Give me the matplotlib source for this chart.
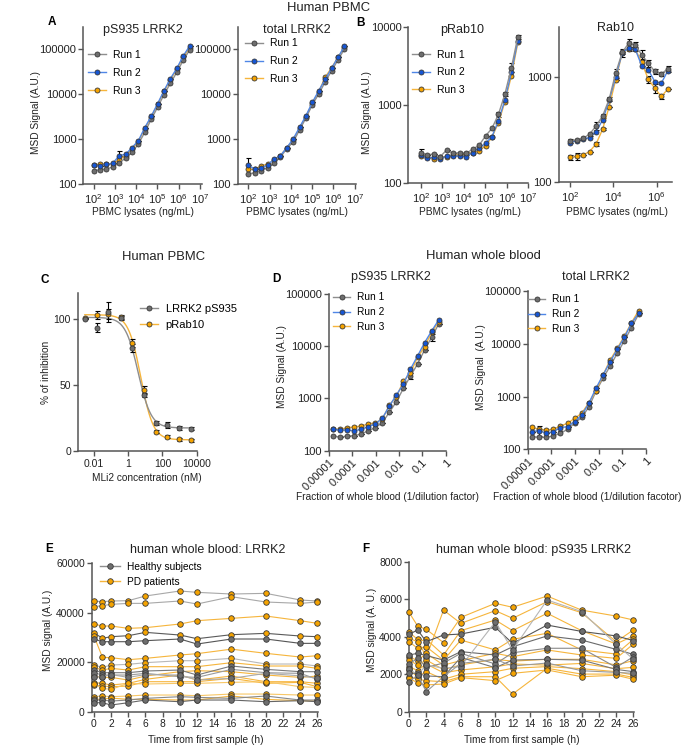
import numpy as np
import matplotlib
matplotlib.use('Agg')
import matplotlib.pyplot as plt
from matplotlib.lines import Line2D
from matplotlib.ticker import NullLocator, FixedLocator, FixedFormatter

plt.rcParams['font.family'] = ['Liberation Sans', 'DejaVu Sans']
plt.rcParams['mathtext.fontset'] = 'custom'
plt.rcParams['mathtext.rm'] = 'Liberation Sans'
plt.rcParams['mathtext.it'] = 'Liberation Sans:italic'
plt.rcParams['mathtext.default'] = 'regular'

# ---------------- data ----------------
pbmc_conc = [100, 200, 400, 800, 1600, 3200, 6400, 12800, 25600, 51200,
             102400, 204800, 409600, 819200, 1638400, 3276800]

A_pS935_run1 = [198, 208, 216, 239, 299, 373, 507, 778, 1415, 2755, 5094, 9770, 17460, 30700, 56800, 96400]
A_pS935_run2 = [260, 256, 274, 289, 428, 458, 645, 923, 1797, 3214, 6150, 11990, 22180, 37700, 71000, 118000]
A_pS935_run3 = [265, 275, 275, 285, 340, 430, 610, 880, 1700, 3100, 5900, 11500, 21000, 36000, 66000, 108000]
A_pS935_err2 = [0, 0, 0, 0, 110, 0, 0, 0, 0, 0, 0, 0, 0, 0, 0, 0]

A_total_run1 = [167, 179, 195, 231, 289, 393, 612, 861, 1595, 2950, 5850, 10100, 18700, 32900, 57800, 100000]
A_total_run2 = [260, 216, 223, 265, 354, 425, 645, 1005, 1830, 3330, 6580, 12000, 21300, 37700, 66000, 115000]
A_total_run3 = [215, 212, 252, 279, 342, 425, 645, 955, 1730, 3160, 6270, 11400, 23800, 38600, 66000, 110000]
A_total_err2 = [126, 0, 0, 0, 0, 0, 0, 0, 0, 0, 0, 0, 0, 0, 0, 0]

B_pRab10_run1 = [247, 231, 238, 220, 267, 242, 247, 242, 273, 307, 404, 507, 767, 1397, 3040, 7590]
B_pRab10_run2 = [231, 209, 215, 203, 224, 224, 224, 220, 247, 281, 326, 397, 636, 1170, 2650, 6760]
B_pRab10_run3 = [224, 220, 203, 215, 220, 231, 231, 235, 247, 262, 301, 389, 598, 1110, 2400, 6390]
B_pRab10_err1 = [25, 0, 0, 0, 0, 0, 0, 10, 0, 0, 0, 0, 60, 100, 400, 450]

B_Rab10_run1 = [248, 253, 262, 287, 344, 428, 617, 1092, 1717, 2108, 2018, 1633, 1359, 1133, 1076, 1200]
B_Rab10_run2 = [239, 248, 259, 266, 304, 392, 600, 1000, 1693, 1888, 1849, 1282, 1175, 909, 877, 1148]
B_Rab10_run3 = [173, 176, 182, 196, 232, 320, 525, 944, 1693, 1849, 1849, 1380, 957, 785, 655, 769]
B_Rab10_err1 = [10, 0, 0, 10, 30, 15, 30, 100, 150, 180, 130, 180, 110, 70, 50, 70]
B_Rab10_err3 = [10, 12, 0, 0, 10, 8, 0, 0, 50, 80, 80, 110, 80, 80, 40, 0]

C_conc = [0.003, 0.015, 0.07, 0.37, 1.7, 8.5, 41, 195, 930, 4500]
C_pS935 = [100, 93.7, 105.8, 101.3, 78, 42.3, 21, 19.7, 17.2, 17]
C_pS935_err = [0, 3.5, 7.5, 1.5, 3, 1.5, 1.5, 2, 1.5, 1]
C_pRab10 = [101, 103, 104, 101.5, 81.8, 46, 14.7, 10.9, 8.9, 8.1]
C_pRab10_err = [0, 3, 4, 1.5, 3, 3, 1, 1, 1, 1]
# 4-parameter logistic fit: top, bottom, IC50 (nM), Hill slope
C_fit_pS935 = [101.5, 17.5, 3.9, 1.15]
C_fit_pRab10 = [103.5, 8.5, 5.5, 1.2]

blood_frac = [1.53e-5, 3.05e-5, 6.1e-5, 1.22e-4, 2.44e-4, 4.88e-4, 9.77e-4, 1.95e-3,
              3.91e-3, 7.81e-3, 0.0156, 0.0313, 0.0625, 0.125, 0.25, 0.5]
D_pS935_run1 = [194, 180, 191, 194, 208, 241, 275, 344, 542, 867, 1561, 2691, 4563, 8455, 14790, 26600]
D_pS935_run2 = [256, 249, 249, 241, 256, 288, 324, 416, 716, 1164, 1889, 3656, 6490, 11690, 19540, 31760]
D_pS935_run3 = [260, 256, 276, 284, 297, 324, 344, 398, 750, 1080, 2150, 3100, 6100, 9800, 18400, 29300]
D_pS935_err1 = [0, 0, 0, 0, 0, 0, 0, 0, 0, 0, 0, 350, 0, 0, 2000, 0]
D_total_run1 = [174, 169, 169, 179, 201, 239, 311, 404, 634, 1256, 2217, 3800, 6590, 11460, 20200, 36200]
D_total_run2 = [216, 226, 201, 216, 257, 269, 334, 447, 745, 1432, 2564, 4583, 7860, 13270, 24400, 37800]
D_total_run3 = [261, 239, 232, 239, 277, 311, 387, 481, 766, 1275, 2564, 4930, 8200, 14060, 25130, 42500]
D_total_err2 = [0, 45, 0, 0, 30, 0, 0, 0, 0, 0, 0, 0, 0, 0, 0, 0]

time_h = [0, 1, 2, 4, 6, 10, 12, 16, 20, 24, 26]

E_healthy = [
    [29390, 28300, 28300, 28300, 28710, 29390, 27360, 29390, 29390, 27630, 27630],
    [16850, 15770, 15770, 15770, 16450, 16850, 14830, 18470, 17120, 16180, 16180],
    [15770, 14830, 14830, 14830, 15500, 14150, 13880, 17120, 15770, 15500, 13080],
    [13880, 14200, 15000, 13880, 15000, 14830, 12800, 13480, 15500, 14500, 13500],
    [4720, 4720, 4310, 4720, 5390, 6070, 5800, 5390, 6340, 4720, 4720],
    [3640, 3640, 2700, 3640, 4720, 4040, 4720, 4720, 4040, 4450, 4040],
]
E_pd = [
    [44750, 44480, 44750, 44890, 46780, 48800, 48260, 47580, 47850, 45160, 44750],
    [42460, 42870, 43400, 43800, 43800, 44750, 43540, 46500, 44350, 43800, 44350],
    [35450, 34640, 34640, 33700, 33970, 35450, 36800, 37740, 38690, 36800, 35720],
    [31950, 29660, 30330, 30730, 32080, 31000, 29520, 31140, 31680, 30600, 30330],
    [30730, 21970, 21840, 21030, 21570, 22920, 23460, 25290, 23600, 22110, 22650],
    [18870, 17930, 18870, 19140, 19820, 20620, 20620, 21570, 19280, 19280, 18470],
    [17930, 16850, 17520, 16850, 18200, 18200, 18200, 19820, 18470, 18470, 17520],
    [14420, 13880, 13880, 12800, 14420, 16180, 16580, 16180, 14830, 13880, 14420],
    [11730, 11460, 10780, 11460, 13080, 14830, 12800, 14420, 12130, 12130, 11460],
    [10780, 10380, 10110, 10380, 12130, 12130, 12130, 13480, 11460, 11860, 10110],
    [11200, 9440, 9030, 11460, 11190, 11460, 11460, 11860, 12130, 10110, 9800],
    [6070, 6340, 6070, 6340, 6740, 6740, 6470, 7140, 7140, 6740, 6740],
    [4990, 5100, 5500, 5000, 5000, 4720, 4720, 6340, 4990, 4450, 4300],
]

F_healthy = [
    [4130, 4370, 3740, 4100, 4150, 4510, 3650, 4630, 4290, 4050, 3800],
    [3030, 3120, 3000, 2760, 3210, 3030, 3470, 4050, 3830, 3330, 3060],
    [2550, 2850, 2370, 2600, 3120, 2550, 3150, 3390, 3390, 2370, 2940],
    [2300, 1960, 2500, 2320, 2410, 4800, 3300, 5970, 5350, 3600, 2800],
    [2050, 2050, 1910, 1870, 2900, 2350, 2760, 2800, 2760, 2260, 2140],
    [1600, 1960, 1070, 1870, 2580, 2800, 2440, 2600, 2190, 2100, 2050],
]
F_pd = [
    [5310, 4580, 4400, 3690, 5040, 5790, 5580, 6180, 5430, 5110, 4900],
    [4240, 3870, 2900, 5430, 4720, 5400, 4990, 5880, 5290, 3740, 4370],
    [3920, 3740, 3870, 3030, 4330, 4900, 4330, 5260, 4330, 3620, 4050],
    [3740, 3390, 3470, 2750, 3830, 3300, 3870, 4190, 3300, 3080, 3870],
    [2940, 2730, 3120, 2490, 2730, 3120, 2940, 3300, 3030, 2850, 3620],
    [2760, 2490, 2760, 2250, 2500, 2800, 2700, 2800, 2800, 2500, 2730],
    [2410, 2200, 2550, 2080, 2230, 2400, 2550, 2490, 2580, 2300, 2370],
    [2230, 1870, 2140, 1730, 2000, 2140, 2320, 2410, 2300, 2140, 1960],
    [1870, 1730, 1660, 1600, 1870, 1870, 940, 2320, 2010, 2010, 1830],
    [1780, 1550, 1430, 1480, 1820, 1660, 2050, 2230, 1870, 1950, 1730],
]

run_labels = ['Run 1', 'Run 2', 'Run 3']

# ---------------- style ----------------
GRAY_F, GRAY_L = '#6e6e6e', '#8e8e8e'
BLUE_F, BLUE_L = '#1656d4', '#4f86e6'
ORNG_F, ORNG_L = '#f5a300', '#f6b53c'
EDGE = '#3a3a3a'
SPINE = '#555555'

W, H = 685, 746
fig = plt.figure(figsize=(W / 100, H / 100), dpi=100)


def axpx(l, t, r, b):
    return fig.add_axes([l / W, 1 - b / H, (r - l) / W, (b - t) / H])


def ftext(x, y, s, **kw):
    kw.setdefault('ha', 'center')
    kw.setdefault('va', 'center')
    kw.setdefault('fontsize', 7.3)
    kw.setdefault('color', '#222222')
    fig.text(x / W, 1 - y / H, s, **kw)


def style(ax, ts=8):
    for s in ['top', 'right']:
        ax.spines[s].set_visible(False)
    for s in ['left', 'bottom']:
        ax.spines[s].set_color(SPINE)
        ax.spines[s].set_linewidth(1.1)
    ax.tick_params(which='major', length=3.5, width=1.0, color=SPINE,
                   labelsize=ts, pad=1.5, labelcolor='#222222')
    ax.tick_params(which='minor', length=0)
    ax.xaxis.set_minor_locator(NullLocator())
    ax.yaxis.set_minor_locator(NullLocator())


def runplot(ax, x, y, lc, fc, ms=3.6, z=3):
    ax.plot(x, y, '-o', color=lc, mfc=fc, mec=EDGE, ms=ms, mew=0.6, lw=1.0,
            clip_on=False, zorder=z)


def errs(ax, x, y, e, up_only=False, z=2):
    e = np.asarray(e, float)
    yerr = [np.zeros_like(e), e] if up_only else [e, e]
    ax.errorbar(x, y, yerr=yerr, fmt='none', ecolor='black', elinewidth=0.8,
                capsize=1.8, capthick=0.8, zorder=z, clip_on=False)


def run_legend(ax, x, y, labelspacing=0.75, fs=7.5):
    hs = [Line2D([], [], color=c, marker='o', mfc=f, mec=EDGE, ms=3.6, mew=0.6, lw=1.0)
          for c, f in [(GRAY_L, GRAY_F), (BLUE_L, BLUE_F), (ORNG_L, ORNG_F)]]
    ax.legend(hs, run_labels, loc='upper left', bbox_to_anchor=(x / W, 1 - y / H),
              bbox_transform=fig.transFigure, frameon=False, fontsize=fs,
              borderpad=0, borderaxespad=0, handlelength=1.7, handletextpad=0.7,
              labelspacing=labelspacing, numpoints=1)


def log_pbmc(ax, xlim, ylim, yt, xt):
    ax.set_xscale('log')
    ax.set_yscale('log')
    ax.set_xlim(*xlim)
    ax.set_ylim(*ylim)
    ax.yaxis.set_major_locator(FixedLocator(yt))
    ax.yaxis.set_major_formatter(FixedFormatter([str(v) for v in yt]))
    ax.xaxis.set_major_locator(FixedLocator([10 ** k for k in xt]))
    ax.xaxis.set_major_formatter(FixedFormatter(['$10^{%d}$' % k for k in xt]))
    style(ax, 8)
    ax.tick_params(axis='x', pad=2.5)


# ---------------- Panel A ----------------
axA1 = axpx(83.3, 26.7, 201.7, 184)
log_pbmc(axA1, (10 ** 1.52, 10 ** 7.08), (100, 10 ** 5.5), [100, 1000, 10000, 100000], [2, 3, 4, 5, 6, 7])
runplot(axA1, pbmc_conc, A_pS935_run3, ORNG_L, ORNG_F)
runplot(axA1, pbmc_conc, A_pS935_run1, GRAY_L, GRAY_F)
runplot(axA1, pbmc_conc, A_pS935_run2, BLUE_L, BLUE_F, z=4)
errs(axA1, pbmc_conc, A_pS935_run2, A_pS935_err2, up_only=True)
run_legend(axA1, 88, 50)

axA2 = axpx(237.7, 26.7, 356, 184)
log_pbmc(axA2, (10 ** 1.50, 10 ** 7.06), (100, 10 ** 5.5), [100, 1000, 10000, 100000], [2, 3, 4, 5, 6, 7])
runplot(axA2, pbmc_conc, A_total_run3, ORNG_L, ORNG_F)
runplot(axA2, pbmc_conc, A_total_run1, GRAY_L, GRAY_F)
runplot(axA2, pbmc_conc, A_total_run2, BLUE_L, BLUE_F, z=4)
errs(axA2, pbmc_conc, A_total_run2, A_total_err2, up_only=True)
run_legend(axA2, 245, 38.5)

# ---------------- Panel B ----------------
axB1 = axpx(408.3, 27.3, 528.3, 183.3)
log_pbmc(axB1, (10 ** 1.42, 10 ** 7.0), (100, 10000), [100, 1000, 10000], [2, 3, 4, 5, 6, 7])
runplot(axB1, pbmc_conc, B_pRab10_run3, ORNG_L, ORNG_F)
runplot(axB1, pbmc_conc, B_pRab10_run2, BLUE_L, BLUE_F)
runplot(axB1, pbmc_conc, B_pRab10_run1, GRAY_L, GRAY_F, z=4)
errs(axB1, pbmc_conc, B_pRab10_run1, B_pRab10_err1)
run_legend(axB1, 412, 49.5)

axB2 = axpx(559, 26.7, 671.8, 182.3)
log_pbmc(axB2, (10 ** 1.49, 10 ** 6.7), (100, 10 ** 3.48), [100, 1000], [2, 4, 6])
runplot(axB2, pbmc_conc, B_Rab10_run3, ORNG_L, ORNG_F)
runplot(axB2, pbmc_conc, B_Rab10_run2, BLUE_L, BLUE_F)
runplot(axB2, pbmc_conc, B_Rab10_run1, GRAY_L, GRAY_F, z=4)
errs(axB2, pbmc_conc, B_Rab10_run1, B_Rab10_err1)
errs(axB2, pbmc_conc, B_Rab10_run3, B_Rab10_err3)

# ---------------- Panel C ----------------
axC = axpx(78, 293, 196.7, 451)
axC.set_xscale('log')
axC.set_xlim(10 ** -2.92, 10 ** 4)
axC.set_ylim(0, 120)
axC.xaxis.set_major_locator(FixedLocator([0.01, 1, 100, 10000]))
axC.xaxis.set_major_formatter(FixedFormatter(['0.01', '1', '100', '10000']))
axC.yaxis.set_major_locator(FixedLocator([0, 50, 100]))
style(axC, 7.5)
axC.tick_params(axis='x', pad=2.5)


def logistic(x, p):
    top, bot, ic50, h = p
    return bot + (top - bot) / (1 + (x / ic50) ** h)


xs = np.logspace(np.log10(C_conc[0]), np.log10(C_conc[-1]), 300)
axC.plot(xs, logistic(xs, C_fit_pRab10), color=ORNG_L, lw=1.0, zorder=2)
axC.plot(xs, logistic(xs, C_fit_pS935), color=GRAY_L, lw=1.0, zorder=2)
errs(axC, C_conc, C_pRab10, C_pRab10_err, z=2)
errs(axC, C_conc, C_pS935, C_pS935_err, z=2)
axC.plot(C_conc, C_pRab10, 'o', mfc=ORNG_F, mec=EDGE, ms=3.6, mew=0.6, zorder=3, clip_on=False)
axC.plot(C_conc, C_pS935, 'o', mfc=GRAY_F, mec=EDGE, ms=3.6, mew=0.6, zorder=4, clip_on=False)
hC = [Line2D([], [], color=GRAY_L, marker='o', mfc=GRAY_F, mec=EDGE, ms=3.6, mew=0.6, lw=1.0),
      Line2D([], [], color=ORNG_L, marker='o', mfc=ORNG_F, mec=EDGE, ms=3.6, mew=0.6, lw=1.0)]
axC.legend(hC, ['LRRK2 pS935', 'pRab10'], loc='upper left', bbox_to_anchor=(140 / W, 1 - 304 / H),
           bbox_transform=fig.transFigure, frameon=False, fontsize=8, borderpad=0,
           borderaxespad=0, handlelength=1.6, handletextpad=0.7, labelspacing=0.5)

# ---------------- Panel D ----------------
dt = [1e-5, 1e-4, 1e-3, 1e-2, 1e-1, 1]
dl = ['0.00001', '0.0001', '0.001', '0.01', '0.1', '1']


def dax(ax):
    ax.set_xscale('log')
    ax.set_yscale('log')
    ax.set_xlim(1e-5, 1)
    ax.set_ylim(100, 1e5)
    ax.yaxis.set_major_locator(FixedLocator([100, 1000, 10000, 100000]))
    ax.yaxis.set_major_formatter(FixedFormatter(['100', '1000', '10000', '100000']))
    ax.xaxis.set_major_locator(FixedLocator(dt))
    ax.xaxis.set_major_formatter(FixedFormatter(dl))
    style(ax, 8)
    for lab in ax.get_xticklabels():
        lab.set_rotation(45)
        lab.set_ha('right')
        lab.set_va('top')
        lab.set_rotation_mode('anchor')


axD1 = axpx(328.7, 294, 445.7, 450.7)
dax(axD1)
runplot(axD1, blood_frac, D_pS935_run1, GRAY_L, GRAY_F)
runplot(axD1, blood_frac, D_pS935_run3, ORNG_L, ORNG_F)
runplot(axD1, blood_frac, D_pS935_run2, BLUE_L, BLUE_F, z=4)
errs(axD1, blood_frac, D_pS935_run1, D_pS935_err1)
run_legend(axD1, 333, 292.5, labelspacing=0.45, fs=7.3)

axD2 = axpx(527.7, 291, 645.7, 449.3)
dax(axD2)
runplot(axD2, blood_frac, D_total_run1, GRAY_L, GRAY_F)
runplot(axD2, blood_frac, D_total_run3, ORNG_L, ORNG_F)
runplot(axD2, blood_frac, D_total_run2, BLUE_L, BLUE_F, z=4)
errs(axD2, blood_frac, D_total_run2, D_total_err2)
run_legend(axD2, 528, 294.5, labelspacing=0.45, fs=7.3)

# ---------------- Panel E ----------------
axE = axpx(91.7, 563.3, 318.3, 711.7)
axE.set_xlim(-0.25, 26.1)
axE.set_ylim(0, 60000)
axE.xaxis.set_major_locator(FixedLocator(list(range(0, 27, 2))))
axE.yaxis.set_major_locator(FixedLocator([0, 20000, 40000, 60000]))
axE.yaxis.set_major_formatter(FixedFormatter(['0', '20000', '40000', '60000']))
style(axE, 7.4)
E_pd_lines = ['#a8a8a8', '#a8a8a8', ORNG_L, '#5a5a5a', ORNG_L, '#b8b8b8', ORNG_L, ORNG_L,
              ORNG_L, ORNG_L, '#f8c766', '#f8c766', ORNG_L]
E_h_lines = ['#555555', '#7a7a7a', '#9a9a9a', '#aaaaaa', '#888888', '#666666']
for vals, lc in zip(E_pd, E_pd_lines):
    axE.plot(time_h, vals, '-o', color=lc, mfc=ORNG_F, mec=EDGE, ms=4, mew=0.6, lw=0.8, clip_on=False, zorder=3)
for vals, lc in zip(E_healthy, E_h_lines):
    axE.plot(time_h, vals, '-o', color=lc, mfc=GRAY_F, mec=EDGE, ms=4, mew=0.6, lw=0.8, clip_on=False, zorder=3)
hE = [Line2D([], [], color=GRAY_L, marker='o', mfc=GRAY_F, mec=EDGE, ms=4, mew=0.6, lw=1.0),
      Line2D([], [], color=ORNG_L, marker='o', mfc=ORNG_F, mec=EDGE, ms=4, mew=0.6, lw=1.0)]
axE.legend(hE, ['Healthy subjects', 'PD patients'], loc='upper left', bbox_to_anchor=(100 / W, 1 - 562 / H),
           bbox_transform=fig.transFigure, frameon=False, fontsize=7.3, borderpad=0,
           borderaxespad=0, handlelength=2.0, handletextpad=0.7, labelspacing=0.45)

# ---------------- Panel F ----------------
axF = axpx(409, 562, 634.3, 711.7)
axF.set_xlim(0, 26.1)
axF.set_ylim(0, 8000)
axF.xaxis.set_major_locator(FixedLocator(list(range(0, 27, 2))))
axF.yaxis.set_major_locator(FixedLocator([0, 2000, 4000, 6000, 8000]))
style(axF, 7.4)
F_h_lines = ['#555555', '#6a6a6a', '#8a8a8a', '#b5b5b5', '#777777', '#9a9a9a']
for vals in F_pd:
    axF.plot(time_h, vals, '-o', color=ORNG_L, mfc=ORNG_F, mec=EDGE, ms=4, mew=0.6, lw=0.8, clip_on=False, zorder=3)
for vals, lc in zip(F_healthy, F_h_lines):
    axF.plot(time_h, vals, '-o', color=lc, mfc=GRAY_F, mec=EDGE, ms=4, mew=0.6, lw=0.8, clip_on=False, zorder=3)

# ---------------- texts ----------------
GT = 9.4   # group titles
TT = 9.0   # panel titles
ftext(329, 8, 'Human PBMC', fontsize=GT)
ftext(52, 22, 'A', fontsize=8.5, fontweight='bold', color='black')
ftext(361, 23, 'B', fontsize=8.5, fontweight='bold', color='black')
ftext(143, 30, 'pS935 LRRK2', fontsize=TT)
ftext(297, 30, 'total LRRK2', fontsize=TT)
ftext(462, 30, 'pRab10', fontsize=TT)
ftext(615, 28, 'Rab10', fontsize=TT)
ftext(36, 113, 'MSD Signal (A.U.)', rotation=90)
ftext(367, 113, 'MSD Signal (A.U.)', rotation=90)
ftext(143, 212, 'PBMC lysates (ng/mL)')
ftext(297, 212, 'PBMC lysates (ng/mL)')
ftext(470, 212, 'PBMC lysates (ng/mL)')
ftext(617, 212, 'PBMC lysates (ng/mL)')

ftext(164, 257, 'Human PBMC', fontsize=GT)
ftext(45, 280, 'C', fontsize=8.5, fontweight='bold', color='black')
ftext(46, 372, '% of inhibition', rotation=90)
ftext(147, 478, 'MLi2 concentration (nM)')

ftext(483, 256, 'Human whole blood', fontsize=GT)
ftext(276, 279, 'D', fontsize=8.5, fontweight='bold', color='black')
ftext(391, 277, 'pS935 LRRK2', fontsize=TT)
ftext(596, 277, 'total LRRK2', fontsize=TT)
ftext(282, 367, 'MSD Signal (A.U.)', rotation=90)
ftext(481, 367, 'MSD Signal  (A.U.)', rotation=90)
ftext(387.5, 497, 'Fraction of whole blood (1/dilution factor)')
ftext(586.7, 497, 'Fraction of whole blood (1/dilution facotor)')

ftext(49, 549, 'E', fontsize=8.5, fontweight='bold', color='black')
ftext(208, 550, 'human whole blood: LRRK2', fontsize=TT)
ftext(48, 630, 'MSD signal (A.U.)', rotation=90)
ftext(206, 740, 'Time from first sample (h)')

ftext(366, 549, 'F', fontsize=8.5, fontweight='bold', color='black')
ftext(534, 550, 'human whole blood: pS935 LRRK2', fontsize=TT)
ftext(372, 630, 'MSD signal (A. U.)', rotation=90)
ftext(522, 740, 'Time from first sample (h)')

fig.savefig('out.png', dpi=100, facecolor='white')
